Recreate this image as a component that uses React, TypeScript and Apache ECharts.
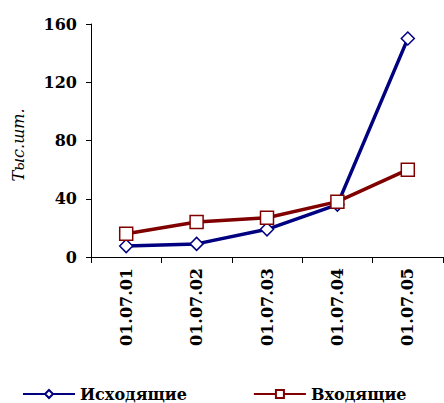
import React, { useEffect, useRef } from "react";
import * as echarts from "echarts";

const categories = ["01.07.01", "01.07.02", "01.07.03", "01.07.04", "01.07.05"];
const outgoing = [7.5, 9, 19, 36, 150];
const incoming = [16, 24, 27, 38, 60];
const yTicks = { min: 0, max: 160, interval: 40 };
const yAxisTitle = "Тыс.шт.";

const FONT = "DejaVu Serif";

export default function App() {
  const ref = useRef<HTMLDivElement>(null);
  useEffect(() => {
    if (!ref.current) return;
    const chart = echarts.init(ref.current, undefined, { renderer: "svg" });
    chart.setOption({
      animation: false,
      backgroundColor: "#ffffff",
      textStyle: { fontFamily: FONT },
      grid: { left: 91, top: 24, right: 1, bottom: 146, containLabel: false },
      graphic: [
        {
          type: "text",
          x: 18,
          y: 145,
          rotation: Math.PI / 2,
          style: {
            text: yAxisTitle,
            fontFamily: FONT,
            fontStyle: "italic",
            fontSize: 16,
            fill: "#000",
            align: "center",
            verticalAlign: "middle",
          },
        },
      ],
      legend: {
        left: 17,
        top: 381,
        itemWidth: 52,
        itemHeight: 10,
        itemGap: 66,
        textStyle: { fontFamily: FONT, fontWeight: "bold", fontSize: 16, color: "#000" },
        data: ["Исходящие", "Входящие"],
      },
      xAxis: {
        type: "category",
        data: categories,
        boundaryGap: true,
        axisLine: { lineStyle: { color: "#000", width: 1 } },
        axisTick: { show: true, length: 6, lineStyle: { color: "#000" } },
        axisLabel: {
          rotate: 90,
          margin: 11,
          fontFamily: FONT,
          fontWeight: "bold",
          fontSize: 16,
          color: "#000",
        },
        splitLine: { show: false },
      },
      yAxis: {
        type: "value",
        min: yTicks.min,
        max: yTicks.max,
        interval: yTicks.interval,
        axisLine: { show: true, lineStyle: { color: "#000", width: 1 } },
        axisTick: { show: true, length: 5, lineStyle: { color: "#000" } },
        axisLabel: {
          margin: 14,
          fontFamily: FONT,
          fontWeight: "bold",
          fontSize: 16,
          color: "#000",
        },
        splitLine: { show: false },
      },
      series: [
        {
          name: "Исходящие",
          type: "line",
          data: outgoing,
          symbol: "diamond",
          symbolSize: 13,
          color: "#000080",
          lineStyle: { width: 3.5, color: "#000080" },
          itemStyle: { color: "#ffffff", borderColor: "#000080", borderWidth: 1.5 },
          z: 2,
        },
        {
          name: "Входящие",
          type: "line",
          data: incoming,
          symbol: "rect",
          symbolSize: 13,
          color: "#800000",
          lineStyle: { width: 3.5, color: "#800000" },
          itemStyle: { color: "#ffffff", borderColor: "#800000", borderWidth: 1.5 },
          z: 3,
        },
      ],
    });
    return () => chart.dispose();
  }, []);
  return <div ref={ref} style={{ width: 444, height: 403, position: "absolute", left: 0, top: 0 }} />;
}
